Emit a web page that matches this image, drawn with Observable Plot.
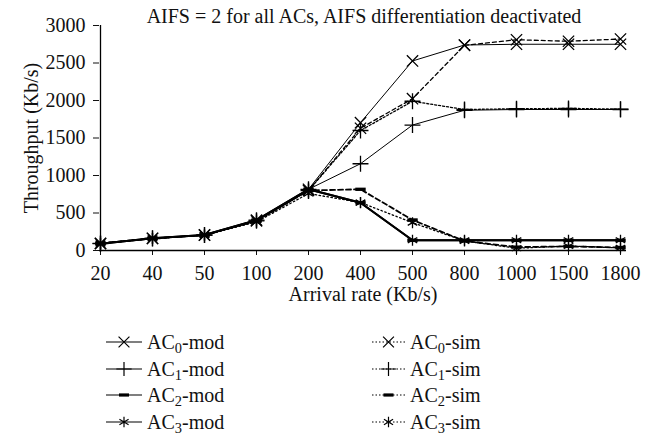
<!DOCTYPE html>
<html>
<head>
<meta charset="utf-8">
<script src="https://cdn.jsdelivr.net/npm/d3@7"></script>
<script src="https://cdn.jsdelivr.net/npm/@observablehq/plot@0.6"></script>
<style>
  body { margin: 0; background: #fff; }
  #wrap { position: relative; width: 661px; height: 437px; font-family: 'Liberation Serif', 'DejaVu Serif', serif; }
  #legend { position: absolute; left: 0; top: 0; width: 0; height: 0; }
  .item { position: absolute; height: 20px; line-height: 20px; display: flex; align-items: center; font-size: 20px; color: #111; font-family: 'Liberation Serif', 'DejaVu Serif', serif; white-space: nowrap; }
  .item svg { display: block; margin-right: 5px; }
  .item span { line-height: 20px; display: block; height: 20px; }
  .item sub { font-size: 0.72em; vertical-align: -0.25em; line-height: 0; }
</style>
</head>
<body>
<div id="wrap"><div id="chart"></div><div id="legend"></div></div>
<script>
const title = "AIFS = 2 for all ACs, AIFS differentiation deactivated";
const xLabel = "Arrival rate (Kb/s)";
const yLabel = "Throughput (Kb/s)";
const categories = ["20","40","50","100","200","400","500","800","1000","1500","1800"];
const yTicks = [0, 500, 1000, 1500, 2000, 2500, 3000];

const ac0Mod = [91, 163, 207, 405, 816, 1704, 2527, 2740, 2750, 2750, 2750];
const ac1Mod = [91, 163, 207, 405, 816, 1157, 1673, 1870, 1880, 1880, 1880];
const ac2Mod = [91, 163, 207, 405, 816, 637, 136, 136, 136, 136, 136];
const ac3Mod = [91, 163, 207, 405, 816, 637, 136, 136, 136, 136, 136];
const ac0Sim = [95, 160, 205, 395, 800, 1630, 2024, 2736, 2810, 2790, 2820];
const ac1Sim = [95, 160, 205, 395, 800, 1600, 1990, 1880, 1890, 1895, 1885];
const ac2Sim = [95, 160, 205, 395, 800, 816, 407, 127, 45, 55, 40];
const ac3Sim = [95, 160, 205, 380, 760, 640, 371, 127, 30, 60, 35];

const FONT = "'Liberation Serif', 'DejaVu Serif', serif";

const dashSymbol = {
  draw(ctx, size) {
    const r = Math.sqrt(size / Math.PI);
    ctx.moveTo(-r, -r * 0.32);
    ctx.lineTo(r, -r * 0.32);
    ctx.lineTo(r, r * 0.32);
    ctx.lineTo(-r, r * 0.32);
    ctx.closePath();
  }
};

const series = [
  {idx: 0, kind: "mod", values: ac0Mod, symbol: "times", width: 1, dash: null},
  {idx: 1, kind: "mod", values: ac1Mod, symbol: "plus", width: 1, dash: null},
  {idx: 2, kind: "mod", values: ac2Mod, symbol: dashSymbol, width: 2, dash: null},
  {idx: 3, kind: "mod", values: ac3Mod, symbol: "asterisk", width: 2, dash: null},
  {idx: 0, kind: "sim", values: ac0Sim, symbol: "times", width: 1.3, dash: "4,3"},
  {idx: 1, kind: "sim", values: ac1Sim, symbol: "plus", width: 1.3, dash: "2,2"},
  {idx: 2, kind: "sim", values: ac2Sim, symbol: dashSymbol, width: 1.8, dash: "5,3"},
  {idx: 3, kind: "sim", values: ac3Sim, symbol: "asterisk", width: 1.3, dash: "1.5,2.5"}
];

const marks = [];
for (const s of series) {
  const rows = categories.map((c, i) => ({rate: c, value: s.values[i]}));
  marks.push(Plot.line(rows, {x: "rate", y: "value", stroke: "black", strokeWidth: s.width, strokeDasharray: s.dash}));
  const isFill = typeof s.symbol === "object";
  marks.push(Plot.dot(rows, {x: "rate", y: "value", symbol: s.symbol, r: 5.2,
    stroke: isFill ? "none" : "black", fill: isFill ? "black" : "none", strokeWidth: 1.3}));
}

const plot = Plot.plot({
  width: 661,
  height: 320,
  marginLeft: 99,
  marginRight: 35,
  marginTop: 25,
  marginBottom: 70,
  style: `font-family: ${FONT}; font-size: 20px; color: #111; background: white;`,
  x: {type: "point", domain: categories, range: [99, 620], padding: 0},
  y: {domain: [0, 3000]},
  marks: [
    Plot.axisY({ticks: yTicks, tickFormat: d => String(d), tickSize: 6, tickPadding: 8,
      label: yLabel, labelAnchor: "center", labelArrow: "none", labelOffset: 76, fontSize: 20, fontFamily: FONT}),
    Plot.axisX({tickSize: 5, tickPadding: 10, label: xLabel, labelAnchor: "center", labelArrow: "none",
      labelOffset: 50, fontSize: 20, fontFamily: FONT}),
    Plot.ruleY([0], {stroke: "black", strokeWidth: 1.3}),
    Plot.ruleX([categories[0]], {stroke: "black", strokeWidth: 1.3}),
    ...marks,
    Plot.text([title], {frameAnchor: "top", lineAnchor: "bottom", dy: -3, dx: 1, fontSize: 20, fontFamily: FONT})
  ]
});
document.getElementById("chart").appendChild(plot);

// Legend
const legend = document.getElementById("legend");
const rowCenter0 = 342, rowH = 26.5;
for (const s of series) {
  const item = document.createElement("div");
  item.className = "item";
  item.style.top = (rowCenter0 + s.idx * rowH - 10) + "px";
  item.style.left = (s.kind === "mod" ? 106 : 372) + "px";
  const w = s.kind === "mod" ? 36 : 33;
  const svg = d3.create("svg").attr("width", w).attr("height", 14);
  svg.append("line").attr("x1", 0).attr("x2", w).attr("y1", 7).attr("y2", 7)
    .attr("stroke", "black").attr("stroke-width", 1.2)
    .attr("stroke-dasharray", s.kind === "mod" ? null : "1.5,2");
  const symType = typeof s.symbol === "object" ? s.symbol :
    {times: d3.symbolTimes, plus: d3.symbolPlus, asterisk: d3.symbolAsterisk}[s.symbol];
  const isFill = typeof s.symbol === "object";
  svg.append("path").attr("transform", `translate(${w / 2},7)`)
    .attr("d", d3.symbol(symType, 5 * 5 * Math.PI)())
    .attr("fill", isFill ? "black" : "none").attr("stroke", isFill ? "none" : "black").attr("stroke-width", 1.2);
  item.appendChild(svg.node());
  const label = document.createElement("span");
  label.innerHTML = `AC<sub>${s.idx}</sub>-${s.kind}`;
  item.appendChild(label);
  legend.appendChild(item);
}
</script>
</body>
</html>
